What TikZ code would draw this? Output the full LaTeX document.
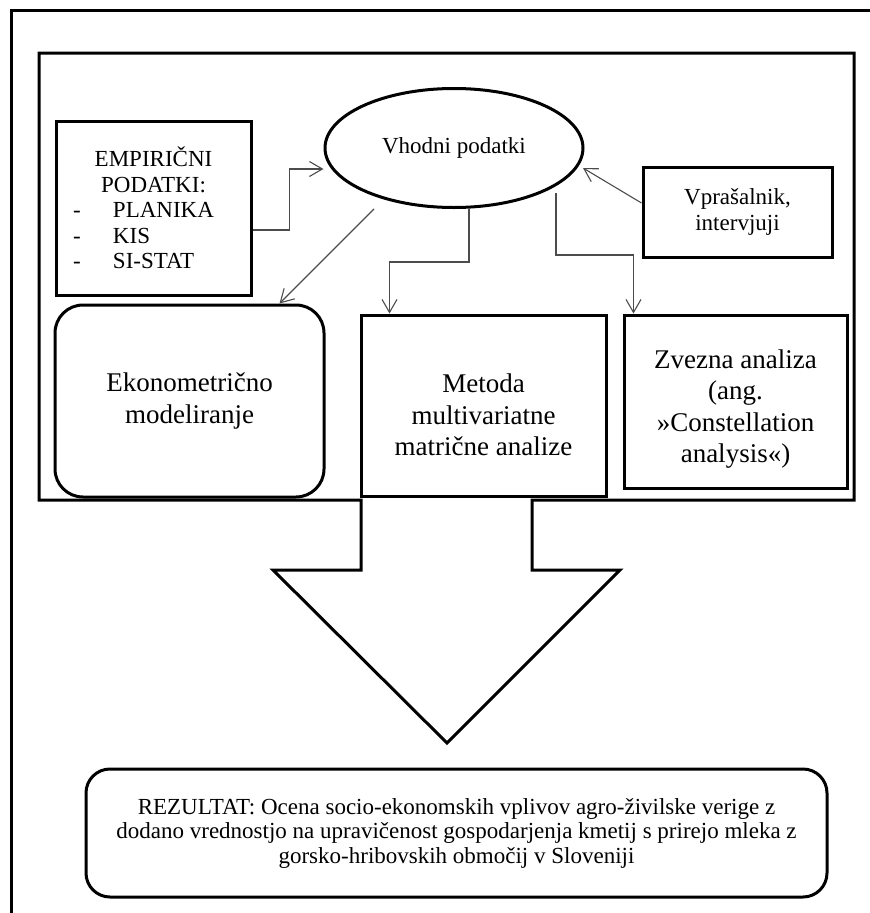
\documentclass[tikz,border=0pt]{standalone}
\usepackage{fontspec}
\setmainfont{Liberation Serif}
\usetikzlibrary{arrows.meta,shapes.geometric}

\tikzset{
  frame/.style = {line width=3pt},
  box/.style = {draw, line width=3pt, inner sep=0pt, align=center},
  conn/.style = {->, draw=black!70, line width=1.1pt},
  small/.style = {font=\fontsize{23}{25.5}\selectfont},
  big/.style = {font=\fontsize{27}{31.5}\selectfont},
}
% pushes the text of a box down a little
\newcommand{\topgap}[1]{\rule{0pt}{#1}}

\begin{document}
\begin{tikzpicture}[x=1pt, y=-1pt, >={Straight Barb[length=13pt, width=15pt]}]
  \useasboundingbox (0,0) rectangle (870,913);
  % outer frame, cut off on the right and at the bottom
  \draw[frame] (11,913) -- (11,10) -- (870,10);
  % inner frame together with the big arrow
  \draw[frame] (532,500) -- (854,500) -- (854,53) -- (39,53) -- (39,500) -- (361,500)
    -- (361,570) -- (273,570) -- (447,743) -- (620,570) -- (532,570) -- cycle;

  \node[box, ellipse, small, minimum width=258, minimum height=119] (vhod) at (454,148) {Vhodni podatki};
  \node[box, small, minimum width=195, minimum height=174, text width=161, align=left] (emp) at (153.5,208)
    {{\centering EMPIRIČNI\\ PODATKI:\par}
     \makebox[40pt][l]{-}PLANIKA\\
     \makebox[40pt][l]{-}KIS\\
     \makebox[40pt][l]{-}SI-STAT};
  \node[box, small, minimum width=189, minimum height=90] (vpras) at (737.5,212) {Vprašalnik,\\intervjuji};

  \node[box, big, rounded corners=28, minimum width=269, minimum height=192] (ekon) at (189.5,401)
    {Ekonometrično\\modeliranje};
  \node[box, big, minimum width=245, minimum height=181] (metoda) at (483.5,405.5)
    {\topgap{38pt}Metoda\\multivariatne\\matrične analize};
  \node[box, big, minimum width=223, minimum height=173] (zvezna) at (735.5,401.5)
    {\topgap{34pt}Zvezna analiza\\(ang.\\»Constellation\\analysis«)};

  \node[box, rounded corners=24, minimum width=741, minimum height=128,
    font=\fontsize{23}{24.5}\selectfont] (rezultat) at (456.5,833)
    {REZULTAT: Ocena socio-ekonomskih vplivov agro-živilske verige z\\
     dodano vrednostjo na upravičenost gospodarjenja kmetij s prirejo mleka z\\
     gorsko-hribovskih območij v Sloveniji};

  % connectors
  \draw[conn] ([yshift=-22pt]emp.east) -- ++(37,0) |- ([yshift=-21pt]vhod.west);
  \draw[conn] ([yshift=9pt]vpras.west) -- ([xshift=129pt,yshift=-20pt]vhod.center);
  \draw[conn] ([xshift=-80pt]vhod.south) -- ([xshift=90pt]ekon.north);
  \draw[conn] ([xshift=15pt]vhod.south) -- ++(0,53) -| ([xshift=-94pt]metoda.north);
  \draw[conn] ([xshift=102pt,yshift=-45pt]vhod.center) -- ++(0,62) -| ([xshift=-102pt]zvezna.north);
\end{tikzpicture}
\end{document}
